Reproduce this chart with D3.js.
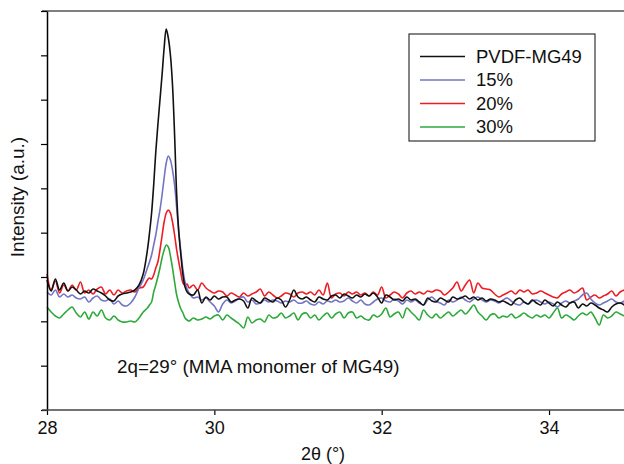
<!DOCTYPE html>
<html>
<head>
<meta charset="utf-8">
<script src="https://cdn.jsdelivr.net/npm/d3@7"></script>
<style>
  html, body { margin: 0; padding: 0; background: #fff; }
  svg { display: block; font-family: "Liberation Sans", Arial, sans-serif; }
</style>
</head>
<body>
<div id="chart"></div>
<script>
// 2θ sampling (denser across the peak)
const twoTheta = [
  28, 28.05, 28.1, 28.15, 28.2, 28.25, 28.3, 28.35, 28.4, 28.45, 28.5, 28.55, 28.6, 28.65, 28.7, 28.75,
  28.8, 28.85, 28.9, 28.95, 29, 29.05, 29.1, 29.15,
  29.2, 29.225, 29.25, 29.275, 29.3, 29.325, 29.35, 29.375, 29.4, 29.425, 29.45, 29.475, 29.5, 29.525,
  29.55, 29.575, 29.6, 29.625, 29.65, 29.675, 29.7,
  29.75, 29.8, 29.85, 29.9, 29.95, 30, 30.05, 30.1, 30.15, 30.2, 30.25, 30.3, 30.35, 30.4, 30.45, 30.5,
  30.55, 30.6, 30.65, 30.7, 30.75, 30.8, 30.85, 30.9, 30.95, 31, 31.05, 31.1, 31.15, 31.2, 31.25, 31.3,
  31.35, 31.4, 31.45, 31.5, 31.55, 31.6, 31.65, 31.7, 31.75, 31.8, 31.85, 31.9, 31.95, 32, 32.05, 32.1,
  32.15, 32.2, 32.25, 32.3, 32.35, 32.4, 32.45, 32.5, 32.55, 32.6, 32.65, 32.7, 32.75, 32.8, 32.85, 32.9,
  32.95, 33, 33.05, 33.1, 33.15, 33.2, 33.25, 33.3, 33.35, 33.4, 33.45, 33.5, 33.55, 33.6, 33.65, 33.7,
  33.75, 33.8, 33.85, 33.9, 33.95, 34, 34.05, 34.1, 34.15, 34.2, 34.25, 34.3, 34.35, 34.4, 34.45, 34.5,
  34.55, 34.6, 34.65, 34.7, 34.75, 34.8, 34.85, 34.9
];

const pvdf = [
  130,119,131,120,127,119,123,120,116,119,117,121,119,117,114,110,109,114,116,117,118,120,125,136,
  160,177,197,225,258,285,310,335,362,381,372,355,325,275,215,178,155,135,123,118,116,
  115,120,107,113,110,114,111,113,113,108,110,111,109,102,112,109,107,112,110,108,
  112,110,103,110,120,113,111,113,110,108,113,111,110,114,115,112,116,114,112,115,
  113,116,114,117,113,107,115,113,110,111,109,113,110,111,108,105,112,109,108,112,
  110,108,113,111,112,114,111,113,110,112,109,111,110,108,109,107,105,110,112,108,
  106,110,107,105,110,107,104,108,105,103,107,108,102,106,104,107,105,102,100,98,
  103,106,107,105
];

const mg15 = [
  118,115,120,113,116,113,115,112,111,113,108,112,114,110,109,111,106,109,105,104,107,113,122,130,
  142,148,155,165,175,188,200,215,232,247,254,250,240,225,202,178,158,140,128,121,117,
  112,113,110,112,108,104,98,106,110,107,109,112,113,108,110,106,107,110,108,110,
  109,107,109,108,110,107,107,109,106,105,108,106,109,108,110,108,109,112,109,107,
  110,106,105,108,111,112,109,108,111,109,106,110,108,110,107,105,110,113,109,107,
  105,110,108,110,113,110,108,111,113,110,108,110,109,107,110,112,109,106,105,108,
  106,109,110,108,106,108,106,103,107,109,107,109,111,115,117,111,107,105,107,109,
  111,108,107,109
];

const mg20 = [
  136,120,129,117,125,119,125,120,128,117,120,116,121,123,116,120,115,120,117,119,120,118,122,123,
  130,132,131,135,142,148,160,174,188,197,200,197,188,175,160,148,137,127,125,126,122,
  125,120,127,122,119,117,119,118,114,117,115,113,117,114,116,118,121,114,118,115,
  112,114,117,116,113,117,118,116,118,115,120,115,127,112,116,117,114,118,116,118,
  115,117,114,118,115,123,112,115,118,116,112,117,119,116,118,116,119,118,120,119,
  115,118,122,128,119,125,130,117,127,122,121,120,116,113,115,117,119,116,120,118,
  120,116,117,119,117,115,113,112,116,118,120,117,119,122,110,113,115,112,114,116,
  119,114,118,120
];

const mg30 = [
  103,98,94,92,96,100,103,97,93,98,91,98,94,100,92,90,94,90,88,88,89,88,92,98,
  102,105,108,118,125,133,142,152,160,165,163,154,142,128,115,107,101,97,92,90,89,
  92,90,91,93,91,94,95,90,95,92,89,86,82,93,87,90,91,88,95,92,
  93,97,92,94,97,90,96,97,92,95,90,94,97,92,96,98,92,97,98,92,
  94,91,90,95,93,96,102,93,96,98,92,102,98,94,90,100,95,92,96,92,
  95,98,94,97,100,96,100,105,98,94,90,95,96,92,94,93,96,92,94,97,
  94,92,95,93,95,92,97,102,92,95,93,90,94,97,95,98,92,85,95,92,
  94,98,96,94
];

const seriesNames = ["PVDF-MG49", "15%", "20%", "30%"];
const seriesValues = [pvdf, mg15, mg20, mg30];
const seriesColors = ["#111111", "#7474c4", "#ee1c25", "#2eaa3c"];

const xTicks = [28, 30, 32, 34];
const yTickCount = 9;

const width = 624, height = 464;
const svg = d3.select("#chart").append("svg")
    .attr("width", width)
    .attr("height", height);

const x = d3.scaleLinear().domain([28, 35]).range([47, 632.7]);
const y = d3.scaleLinear().domain([0, 399]).range([410, 11]);
const yTicks = d3.range(yTickCount + 1).map(i => i * 399 / yTickCount);

// frame top line
svg.append("line")
    .attr("x1", 42).attr("x2", width)
    .attr("y1", 11).attr("y2", 11)
    .style("stroke", "#555").style("stroke-width", 1.5);

// data lines
const line = d3.line()
    .x((d, i) => x(twoTheta[i]))
    .y(d => y(d))
    .curve(d3.curveCatmullRom.alpha(0.5));

seriesValues.slice().reverse().forEach((vals, k) => {
    const idx = seriesValues.length - 1 - k;
    svg.append("path")
        .datum(vals)
        .attr("d", line)
        .style("fill", "none")
        .style("stroke", seriesColors[idx])
        .style("stroke-width", 1.6)
        .style("stroke-linejoin", "round");
});

// y axis (no labels)
const yAxis = svg.append("g")
    .attr("transform", "translate(47,0)")
    .call(d3.axisLeft(y).tickValues(yTicks).tickSize(6).tickSizeOuter(0).tickFormat(""));
yAxis.select(".domain").style("stroke", "#000").style("stroke-width", 1.5);
yAxis.selectAll(".tick line").style("stroke", "#000").style("stroke-width", 1.2);

// x axis
const xAxis = svg.append("g")
    .attr("transform", "translate(0,410)")
    .call(d3.axisBottom(x).tickValues(xTicks).tickFormat(d3.format("d"))
        .tickSize(5).tickSizeOuter(0).tickPadding(6));
xAxis.select(".domain").remove();
xAxis.append("line")
    .attr("x1", 42).attr("x2", width)
    .style("stroke", "#444").style("stroke-width", 1.5);
xAxis.selectAll(".tick line").style("stroke", "#000").style("stroke-width", 1.2);
xAxis.selectAll(".tick text")
    .style("font-size", "18px")
    .style("font-family", "'Liberation Sans', Arial, sans-serif")
    .style("fill", "#111");

// axis titles
svg.append("text")
    .attr("x", 323).attr("y", 460)
    .attr("text-anchor", "middle")
    .style("font-size", "18px")
    .style("fill", "#111")
    .text("2θ (°)");

svg.append("text")
    .attr("transform", "translate(24,197) rotate(-90)")
    .attr("text-anchor", "middle")
    .style("font-size", "19px")
    .style("fill", "#111")
    .text("Intensity (a.u.)");

// annotation
svg.append("text")
    .attr("x", 117).attr("y", 373)
    .style("font-size", "18.8px")
    .style("fill", "#111")
    .text("2q=29° (MMA monomer of MG49)");

// legend
const legend = svg.append("g");
legend.append("rect")
    .attr("x", 409).attr("y", 34)
    .attr("width", 186).attr("height", 107)
    .style("fill", "#fff")
    .style("stroke", "#333")
    .style("stroke-width", 1.2);

const legendRow = d3.scaleLinear().domain([0, 3]).range([56.5, 127]);
seriesNames.forEach((name, i) => {
    const yy = legendRow(i);
    legend.append("line")
        .attr("x1", 420).attr("x2", 465)
        .attr("y1", yy).attr("y2", yy)
        .style("stroke", seriesColors[i])
        .style("stroke-width", 1.3);
    legend.append("text")
        .attr("x", 476).attr("y", yy)
        .attr("dy", "0.35em")
        .style("font-size", "18.5px")
        .style("fill", "#111")
        .text(name);
});
</script>
</body>
</html>
